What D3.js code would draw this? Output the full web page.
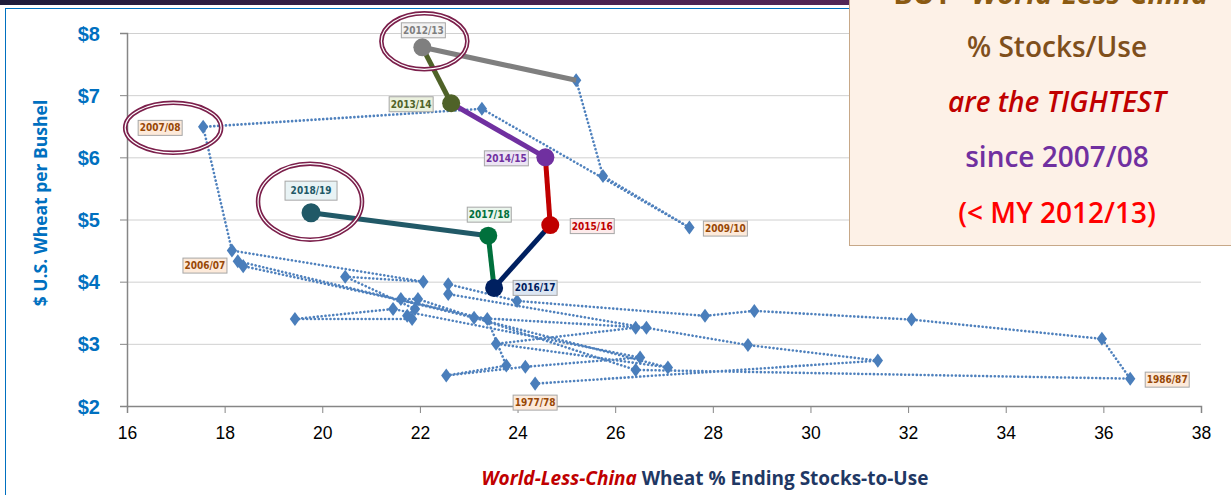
<!DOCTYPE html>
<html lang="en">
<head>
<meta charset="UTF-8">
<title>Wheat price vs World-Less-China stocks-to-use</title>
<script src="https://d3js.org/d3.v7.min.js"></script>
<style>
  body { margin: 0; background: #fff; overflow: hidden; }
  svg { display: block; font-family: "Open Sans", "Liberation Sans", sans-serif; }
  .tick-y { fill: #0070c0; font-weight: bold; font-size: 20px; }
  .tick-x { fill: #000; font-size: 17.5px; font-family: "Liberation Sans Narrow", "Liberation Sans", sans-serif; }
  .yr { font-size: 10px; font-weight: bold; font-family: "DejaVu Sans Condensed", "DejaVu Sans", sans-serif; }
</style>
</head>
<body>
<svg id="chart" width="1231" height="495"></svg>
<script>
// historical path (dotted), in plotting order
const histStocks = [24.36, 31.38, 28.72, 22.58, 22.58, 23.99, 27.84, 28.85, 32.07, 35.97, 36.55, 26.42,
  21.96, 21.61, 27.08, 23.56, 26.42, 26.64, 23.11, 18.27, 18.38, 23.38, 23.77, 22.54, 24.16, 26.51,
  21.45, 19.44, 21.84, 21.74, 21.90, 20.47, 22.07, 18.15, 17.56, 23.27, 27.52, 25.75, 25.20];
const histPrice = [2.36, 2.73, 2.98, 3.80, 3.96, 3.69, 3.45, 3.53, 3.39, 3.08, 2.44, 2.58,
  3.72, 3.72, 2.62, 3.00, 3.26, 3.26, 3.42, 4.33, 4.25, 3.40, 2.65, 2.49, 2.63, 2.78,
  3.56, 3.40, 3.40, 3.45, 3.56, 4.08, 4.00, 4.50, 6.49, 6.78, 4.87, 5.70, 7.24];
// labelled historical points: year, index into the arrays above
const histLabelYears = ["1977/78", "1986/87", "2006/07", "2007/08", "2009/10"];
const histLabelIndex = [0, 10, 33, 34, 36];

// recent years (solid coloured path)
const recentYears = ["2011/12", "2012/13", "2013/14", "2014/15", "2015/16", "2016/17", "2017/18", "2018/19"];
const recentStocks = [25.20, 22.05, 22.64, 24.57, 24.67, 23.52, 23.40, 19.77];
const recentPrice = [7.24, 7.77, 6.87, 6.00, 4.91, 3.90, 4.74, 5.11];

const yTicks = [2, 3, 4, 5, 6, 7, 8];
const xTicks = [16, 18, 20, 22, 24, 26, 28, 30, 32, 34, 36, 38];
const circledYears = ["2012/13", "2007/08", "2018/19"];

const noteLines = ["% Stocks/Use", "are the TIGHTEST", "since 2007/08", "(< MY 2012/13)"];

// ---- styles ----
const recentColors = { "2012/13": "#7f7f7f", "2013/14": "#4f6228", "2014/15": "#7030a0", "2015/16": "#c00000",
  "2016/17": "#002060", "2017/18": "#00703c", "2018/19": "#215967" };
const recentFills = { "2012/13": "#f2f2f2", "2013/14": "#ebf1de", "2014/15": "#ece4f4", "2015/16": "#fdeaea",
  "2016/17": "#dce6f2", "2017/18": "#eaf5ec", "2018/19": "#e8f3f5" };
// label offsets [dx, dy] from point, in px
const labelOffset = { "2012/13": [1, -17], "2013/14": [-40, 1], "2014/15": [-39, 1], "2015/16": [42, 1],
  "2016/17": [41, 0], "2017/18": [1, -21], "2018/19": [0, -22],
  "1977/78": [0, 19], "1986/87": [37, 1], "2006/07": [-27, 15], "2007/08": [-43, 1], "2009/10": [36, 1] };

const svg = d3.select("#chart");
const W = 1231, H = 495;

const x = d3.scaleLinear().domain([16, 38]).range([127, 1201]);
const y = d3.scaleLinear().domain([2, 8]).range([406, 33]);

// header band + frame
const defs = svg.append("defs");
const grad = defs.append("linearGradient").attr("id", "hdr");
grad.append("stop").attr("offset", "0%").attr("stop-color", "#1d1b3a");
grad.append("stop").attr("offset", "50%").attr("stop-color", "#4a2352");
grad.append("stop").attr("offset", "100%").attr("stop-color", "#5b2a5c");
svg.append("rect").attr("x", 0).attr("y", 0).attr("width", W).attr("height", 5).attr("fill", "url(#hdr)");
svg.append("rect").attr("x", 5.5).attr("y", 8.5).attr("width", W - 4).attr("height", H)
  .attr("fill", "none").attr("stroke", "#0070c0").attr("stroke-width", 1);

// gridlines
svg.append("g").selectAll("line").data(yTicks.slice(1)).join("line")
  .attr("x1", x(16)).attr("x2", x(38))
  .attr("y1", d => y(d) + 0.5).attr("y2", d => y(d) + 0.5)
  .attr("stroke", "#d0d0d0").attr("stroke-width", 1);

// axes
const yAxis = d3.axisLeft(y).tickValues(yTicks).tickSize(7).tickFormat(d => "$" + d);
const gy = svg.append("g").attr("transform", `translate(${x(16)},0)`).call(yAxis);
gy.select(".domain").attr("stroke", "#868686").attr("stroke-width", 1.5);
gy.selectAll(".tick line").attr("stroke", "#868686");
gy.selectAll(".tick text").attr("class", "tick-y").attr("x", -27).attr("dy", "0.35em");

const xAxis = d3.axisBottom(x).tickValues(xTicks).tickSize(7).tickFormat(d3.format("d"));
const gx = svg.append("g").attr("transform", `translate(0,${y(2)})`).call(xAxis);
gx.select(".domain").attr("stroke", "#868686").attr("stroke-width", 1.5);
gx.selectAll(".tick line").attr("stroke", "#868686");
gx.selectAll(".tick text").attr("class", "tick-x").attr("y", 21);

// axis titles
svg.append("text").attr("transform", `translate(47,203) rotate(-90)`)
  .attr("text-anchor", "middle").attr("fill", "#0070c0")
  .attr("font-weight", "bold").attr("font-size", 17.5).text("$ U.S. Wheat per Bushel");

const xt = svg.append("text").attr("x", 705).attr("y", 485).attr("text-anchor", "middle")
  .attr("font-weight", "bold").attr("font-size", 19);
xt.append("tspan").attr("fill", "#c00000").attr("font-style", "italic").text("World-Less-China");
xt.append("tspan").attr("fill", "#1f3864").text(" Wheat % Ending Stocks-to-Use");

// historical dotted path
const hist = histStocks.map((s, i) => ({ s, p: histPrice[i] }));
const line = d3.line().x(d => x(d.s)).y(d => y(d.p));
svg.append("path").datum(hist).attr("d", line)
  .attr("fill", "none").attr("stroke", "#4f81bd").attr("stroke-width", 2.6)
  .attr("stroke-dasharray", "0.1,3.8").attr("stroke-linecap", "round");
svg.append("g").selectAll("path").data(hist).join("path")
  .attr("d", d3.symbol(d3.symbolDiamond, 70))
  .attr("transform", d => `translate(${x(d.s)},${y(d.p)}) scale(1.15,0.9)`)
  .attr("fill", "#4a7ebb");

// recent coloured path
const recent = recentYears.map((yr, i) => ({ yr, s: recentStocks[i], p: recentPrice[i] }));
svg.append("g").selectAll("line").data(recent.slice(1)).join("line")
  .attr("x1", (d, i) => x(recent[i].s)).attr("y1", (d, i) => y(recent[i].p))
  .attr("x2", d => x(d.s)).attr("y2", d => y(d.p))
  .attr("stroke", d => recentColors[d.yr]).attr("stroke-width", 5);
svg.append("g").selectAll("circle").data(recent.slice(1)).join("circle")
  .attr("cx", d => x(d.s)).attr("cy", d => y(d.p))
  .attr("r", d => d.yr === "2018/19" ? 9.5 : 9)
  .attr("fill", d => recentColors[d.yr]);

// circled years
const circleGeom = { "2012/13": [2, -6, 43, 28], "2007/08": [-30, 1, 48, 25], "2018/19": [-1, -11, 52, 38] };
const findPt = yr => {
  const r = recent.find(d => d.yr === yr);
  if (r) return r;
  const k = histLabelYears.indexOf(yr);
  return hist[histLabelIndex[k]];
};
circledYears.forEach(yr => {
  const p = findPt(yr), g = circleGeom[yr];
  const cx = x(p.s) + g[0], cy = y(p.p) + g[1];
  svg.append("ellipse").attr("cx", cx).attr("cy", cy).attr("rx", g[2]).attr("ry", g[3])
    .attr("fill", "none").attr("stroke", "#7b1f4b").attr("stroke-width", 4.5);
  svg.append("ellipse").attr("cx", cx).attr("cy", cy).attr("rx", g[2]).attr("ry", g[3])
    .attr("fill", "none").attr("stroke", "#fff").attr("stroke-width", 1.2);
});

// year labels
function yearLabel(yr, px, py, color, fill, big) {
  const off = labelOffset[yr];
  const g = svg.append("g").attr("transform", `translate(${px + off[0]},${py + off[1]})`);
  const w = big ? 52 : 44, h = big ? 19 : 15;
  g.append("rect").attr("x", -w / 2).attr("y", -h / 2).attr("width", w).attr("height", h)
    .attr("fill", fill).attr("stroke", "#a6a6a6").attr("stroke-width", 1);
  g.append("text").attr("class", "yr").attr("text-anchor", "middle").attr("dy", "0.36em")
    .attr("font-size", big ? 12.5 : 10).attr("fill", color).text(yr);
}
histLabelYears.forEach((yr, k) => {
  const d = hist[histLabelIndex[k]];
  yearLabel(yr, x(d.s), y(d.p), "#984806", "#fdeada", false);
});
recent.slice(1).forEach(d => {
  yearLabel(d.yr, x(d.s), y(d.p), recentColors[d.yr], recentFills[d.yr], d.yr === "2018/19");
});

// note box (top line is cut off by the top edge, as in the original slide)
const note = svg.append("g");
note.append("rect").attr("x", 849.5).attr("y", -2).attr("width", 400).attr("height", 247.5)
  .attr("fill", "#fdf1e7").attr("stroke", "#c7a888").attr("stroke-width", 1);
const cx = 1057;
const t0 = note.append("text").attr("x", cx).attr("y", 4).attr("text-anchor", "middle")
  .attr("font-size", 29).attr("font-weight", "bold").attr("fill", "#8b5a12");
t0.append("tspan").text("BUT  ");
t0.append("tspan").attr("font-style", "italic").text("\u201CWorld-Less-China\u201D");
const noteColors = ["#7f4f1c", "#c00000", "#7030a0", "#ff0000"];
const noteY = [57, 112, 167, 223];
noteLines.forEach((t, i) => {
  note.append("text").attr("x", cx).attr("y", noteY[i]).attr("text-anchor", "middle")
    .attr("font-size", 28).attr("font-weight", 600)
    .attr("font-style", i === 1 ? "italic" : "normal")
    .attr("fill", noteColors[i]).text(t);
});
</script>
</body>
</html>
